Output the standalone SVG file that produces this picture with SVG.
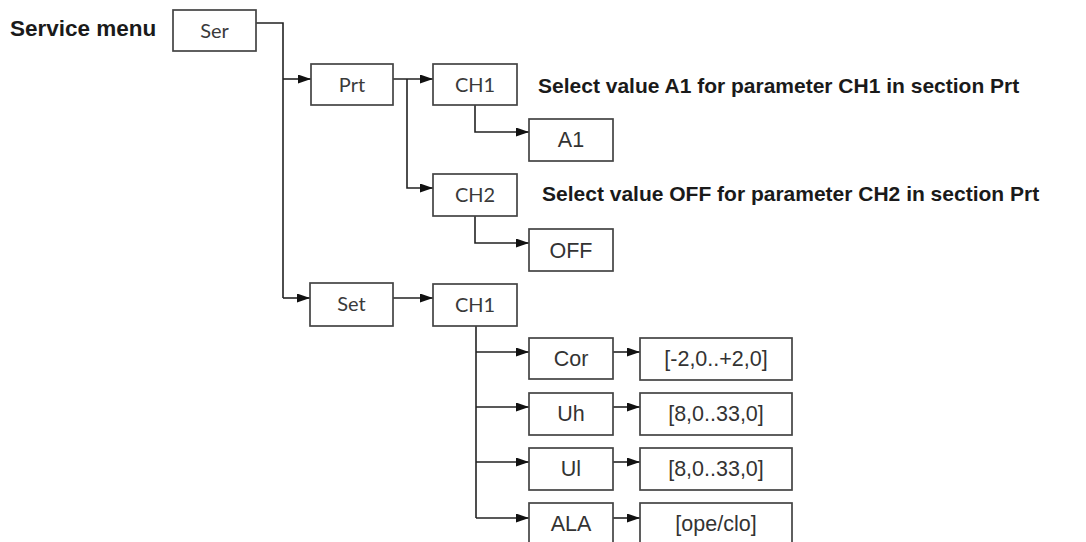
<svg xmlns="http://www.w3.org/2000/svg" width="1086" height="542" viewBox="0 0 1086 542">
<defs>
<marker id="ah" viewBox="0 0 13 9" refX="13" refY="4.5" markerWidth="13" markerHeight="9" markerUnits="userSpaceOnUse" orient="auto">
<path d="M0,0 L13,4.5 L0,9 Z" fill="#111"/>
</marker>
<style>
.box{fill:#fff;stroke:#444;stroke-width:1.7}
.c{fill:none;stroke:#222;stroke-width:1.6}
.a{marker-end:url(#ah)}
.t1{font-family:Lato,"Open Sans",sans-serif;font-size:20px;fill:#3a3a3a;text-anchor:middle}
.t2{font-family:"Liberation Sans",Arial,sans-serif;font-size:21.5px;fill:#333;text-anchor:middle}
.lb{font-family:"Liberation Sans",Arial,sans-serif;font-size:21px;font-weight:bold;fill:#1a1a1a}
</style>
</defs>
<rect width="1086" height="542" fill="#fff"/>
<g id="connectors">
<path class="c" d="M256,23 H283 V298"/>
<path class="c a" d="M283,298 H310"/>
<path class="c a" d="M283,79 H311"/>
<path class="c a" d="M393,79 H433"/>
<path class="c a" d="M407,79 V188 H433"/>
<path class="c a" d="M475,105 V132 H529"/>
<path class="c a" d="M475,216 V243 H529"/>
<path class="c a" d="M393,298 H433"/>
<path class="c" d="M476,326 V518"/>
<path class="c a" d="M476,352 H529"/>
<path class="c a" d="M476,407 H529"/>
<path class="c a" d="M476,462 H529"/>
<path class="c a" d="M476,518 H529"/>
<path class="c a" d="M613,352 H640"/>
<path class="c a" d="M613,407 H640"/>
<path class="c a" d="M613,462 H640"/>
<path class="c a" d="M613,518 H640"/>
</g>
<g id="label-service"><text class="lb" x="10" y="36" style="font-size:22.5px">Service menu</text></g>
<g id="ser"><rect class="box" x="173" y="10" width="83" height="41"/><text class="t1" x="214.5" y="38">Ser</text></g>
<g id="prt"><rect class="box" x="311" y="64" width="82" height="41"/><text class="t1" x="352" y="92">Prt</text></g>
<g id="prt-ch1"><rect class="box" x="433" y="64" width="84" height="41"/><text class="t1" x="475" y="92">CH1</text></g>
<g id="note1"><text class="lb" x="538" y="93">Select value A1 for parameter CH1 in section Prt</text></g>
<g id="a1"><rect class="box" x="529" y="119" width="84" height="42"/><text class="t2" x="571" y="147">A1</text></g>
<g id="prt-ch2"><rect class="box" x="433" y="174" width="84" height="42"/><text class="t1" x="475" y="202">CH2</text></g>
<g id="note2"><text class="lb" x="542" y="201">Select value OFF for parameter CH2 in section Prt</text></g>
<g id="off"><rect class="box" x="529" y="229" width="84" height="42"/><text class="t2" x="571" y="258">OFF</text></g>
<g id="set"><rect class="box" x="310" y="283" width="83" height="43"/><text class="t1" x="351.5" y="311">Set</text></g>
<g id="set-ch1"><rect class="box" x="433" y="284" width="84" height="42"/><text class="t1" x="475" y="312">CH1</text></g>
<g id="cor"><rect class="box" x="529" y="338" width="84" height="41"/><text class="t2" x="571" y="366">Cor</text></g>
<g id="cor-val"><rect class="box" x="640" y="338" width="152" height="42"/><text class="t2" x="716" y="366">[-2,0..+2,0]</text></g>
<g id="uh"><rect class="box" x="529" y="393" width="84" height="42"/><text class="t2" x="571" y="421">Uh</text></g>
<g id="uh-val"><rect class="box" x="640" y="393" width="152" height="42"/><text class="t2" x="716" y="421">[8,0..33,0]</text></g>
<g id="ul"><rect class="box" x="529" y="448" width="84" height="42"/><text class="t2" x="571" y="476">Ul</text></g>
<g id="ul-val"><rect class="box" x="640" y="448" width="152" height="42"/><text class="t2" x="716" y="476">[8,0..33,0]</text></g>
<g id="ala"><rect class="box" x="529" y="503" width="84" height="44"/><text class="t2" x="571" y="531">ALA</text></g>
<g id="ala-val"><rect class="box" x="640" y="503" width="152" height="44"/><text class="t2" x="716" y="531">[ope/clo]</text></g>
</svg>
